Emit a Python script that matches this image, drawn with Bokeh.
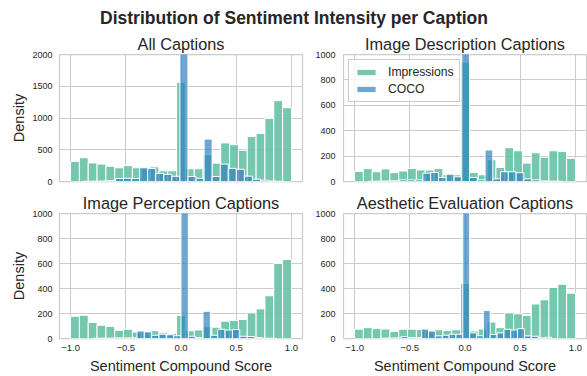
import numpy as np
from bokeh.plotting import figure
from bokeh.layouts import column, row
from bokeh.models import Range1d, FixedTicker, Label, Legend, LegendItem
from bokeh.embed import file_html
from bokeh.resources import INLINE

# ---------------- texts ----------------
suptitle = "Distribution of Sentiment Intensity per Caption"
panel_titles = ["All Captions", "Image Description Captions",
                "Image Perception Captions", "Aesthetic Evaluation Captions"]
series_labels = ["Impressions", "COCO"]
x_label = "Sentiment Compound Score"
y_label = "Density"

x_ticks = [-1.0, -0.5, 0.0, 0.5, 1.0]
x_tick_labels = ["\u22121.0", "\u22120.5", "0.0", "0.5", "1.0"]
y_ticks_all = [0, 500, 1000, 1500, 2000]
y_ticks_sub = [0, 200, 400, 600, 800, 1000]
y_max_all = 2000
y_max_sub = 1000

# ---------------- data ----------------
# Impressions: 25 equal-width bins spanning -1 .. 1
imp_range = (-1.0, 1.0)
imp_all = [316, 374, 292, 274, 240, 216, 250, 216, 220, 231, 168, 168, 1562,
           200, 200, 420, 289, 608, 579, 490, 708, 757, 994, 1273, 1162]
imp_description = [79, 101, 77, 99, 70, 83, 103, 91, 90, 102, 53, 53, 940,
                   71, 53, 172, 110, 266, 242, 145, 226, 190, 242, 236, 182]
imp_perception = [178, 186, 128, 106, 96, 66, 74, 52, 55, 62, 46, 40, 184,
                  62, 68, 96, 90, 139, 145, 153, 205, 237, 342, 600, 632]
imp_aesthetic = [75, 87, 79, 76, 57, 74, 75, 72, 62, 70, 63, 70, 440,
                 60, 76, 132, 87, 205, 197, 184, 276, 310, 408, 434, 363]

# COCO: first bin edge, bin width, counts (per panel)
coco_all_start, coco_all_width = -0.886, 0.073
coco_all = [3, 5, 8, 15, 47, 50, 47, 216, 205, 128, 113, 82, 3000,
            79, 50, 668, 79, 274, 206, 192, 84, 37, 21, 8, 3]
coco_description_start, coco_description_width = -0.873, 0.0703
coco_description = [2, 3, 4, 6, 13, 13, 13, 66, 71, 32, 58, 37, 1500,
                    32, 13, 248, 21, 77, 77, 69, 21, 13, 5, 3, 2]
coco_perception_start, coco_perception_width = -0.798, 0.0665
coco_perception = [2, 3, 3, 5, 5, 6, 60, 53, 26, 34, 30, 22, 1500,
                   18, 8, 218, 26, 74, 68, 72, 18, 16, 8, 3, 2]
coco_aesthetic_start, coco_aesthetic_width = -0.764, 0.062
coco_aesthetic = [3, 4, 5, 15, 8, 8, 76, 60, 21, 26, 34, 34, 1500,
                  45, 22, 224, 32, 45, 74, 68, 79, 21, 18, 5, 10]

# ---------------- style ----------------
FONT = "Liberation Sans"
TEXT = "#262626"
GRID = "#cccccc"
GREEN = "#66c2a5"
BLUE = "#3182bd"


def make_panel(title, imp, c_start, c_width, coco, ymax, yticks,
               width, height, mbl, mbr, mbt, mbb, bottom_axis, ylab,
               ystandoff, legend=False):
    kw = {}
    if not bottom_axis:
        kw["x_axis_location"] = None
    p = figure(width=width, height=height, output_backend="svg",
               toolbar_location=None,
               x_range=Range1d(-1.1, 1.1), y_range=Range1d(0, ymax),
               min_border_left=mbl, min_border_right=mbr,
               min_border_top=mbt, min_border_bottom=mbb, **kw)
    edges = np.linspace(imp_range[0], imp_range[1], len(imp) + 1)
    r_imp = p.quad(left=edges[:-1], right=edges[1:], bottom=0, top=imp,
                   fill_color=GREEN, fill_alpha=0.9,
                   line_color="white", line_width=1)
    cedges = c_start + c_width * np.arange(len(coco) + 1)
    r_coco = p.quad(left=cedges[:-1], right=cedges[1:], bottom=0, top=coco,
                    fill_color=BLUE, fill_alpha=0.7,
                    line_color="white", line_width=1)

    p.title.text = title
    p.title.align = "center"
    p.title.text_font = FONT
    p.title.text_font_size = "16.3px"
    p.title.text_font_style = "normal"
    p.title.text_color = TEXT
    p.title.standoff = 3

    p.xgrid.ticker = FixedTicker(ticks=x_ticks)
    p.ygrid.ticker = FixedTicker(ticks=yticks)
    p.grid.grid_line_color = GRID
    p.grid.grid_line_width = 1
    p.outline_line_color = GRID
    p.outline_line_width = 1.25

    ya = p.yaxis[0]
    ya.ticker = FixedTicker(ticks=yticks)
    ya.major_label_text_font = FONT
    ya.major_label_text_font_size = "9px"
    ya.major_label_text_color = TEXT
    ya.major_label_standoff = ystandoff
    ya.major_tick_out = 0
    ya.major_tick_in = 0
    ya.minor_tick_out = 0
    ya.minor_tick_in = 0
    ya.major_tick_line_color = None
    ya.minor_tick_line_color = None
    ya.axis_line_color = None
    if ylab:
        ya.axis_label = y_label
        ya.axis_label_text_font = FONT
        ya.axis_label_text_font_size = "14.5px"
        ya.axis_label_text_font_style = "normal"
        ya.axis_label_text_color = TEXT
        ya.axis_label_standoff = 2

    if bottom_axis:
        xa = p.xaxis[0]
        xa.ticker = FixedTicker(ticks=x_ticks)
        xa.major_label_overrides = dict(zip(x_ticks, x_tick_labels))
        xa.major_label_text_font = FONT
        xa.major_label_text_font_size = "9.5px"
        xa.major_label_text_color = TEXT
        xa.major_label_standoff = 6
        xa.major_tick_out = 0
        xa.major_tick_in = 0
        xa.minor_tick_out = 0
        xa.minor_tick_in = 0
        xa.major_tick_line_color = None
        xa.minor_tick_line_color = None
        xa.axis_line_color = None
        xa.axis_label = x_label
        xa.axis_label_text_font = FONT
        xa.axis_label_text_font_size = "14.5px"
        xa.axis_label_text_font_style = "normal"
        xa.axis_label_text_color = TEXT
        xa.axis_label_standoff = 4

    if legend:
        lg = Legend(items=[LegendItem(label=series_labels[0], renderers=[r_imp]),
                           LegendItem(label=series_labels[1], renderers=[r_coco])],
                    location="top_left", margin=5, padding=5, spacing=3,
                    glyph_width=24, glyph_height=8, label_height=12,
                    label_standoff=10,
                    label_text_font=FONT, label_text_font_size="12.2px",
                    label_text_color=TEXT,
                    border_line_color=GRID, border_line_alpha=1,
                    background_fill_color="white", background_fill_alpha=0.8)
        p.add_layout(lg)
    return p


t = figure(width=587, height=30, output_backend="svg", toolbar_location=None,
           x_axis_location=None, y_axis_location=None, min_border=0,
           x_range=Range1d(0, 1), y_range=Range1d(0, 1))
t.outline_line_color = None
t.grid.visible = False
t.add_layout(Label(x=293.5, y=12.5, x_units="screen", y_units="screen",
                   text=suptitle, text_align="center", text_baseline="alphabetic",
                   text_font=FONT, text_font_size="17.5px",
                   text_font_style="bold", text_color=TEXT))

p1 = make_panel(panel_titles[0], imp_all, coco_all_start, coco_all_width, coco_all,
                y_max_all, y_ticks_all, 312, 160, 59, 10, 24, 9, False, True, 7)
p2 = make_panel(panel_titles[1], imp_description, coco_description_start,
                coco_description_width, coco_description,
                y_max_sub, y_ticks_sub, 275, 160, 30, 1, 24, 9, False, False, 8,
                legend=True)
p3 = make_panel(panel_titles[2], imp_perception, coco_perception_start,
                coco_perception_width, coco_perception,
                y_max_sub, y_ticks_sub, 312, 186, 59, 10, 23, 36, True, True, 7)
p4 = make_panel(panel_titles[3], imp_aesthetic, coco_aesthetic_start,
                coco_aesthetic_width, coco_aesthetic,
                y_max_sub, y_ticks_sub, 275, 186, 30, 1, 23, 36, True, False, 8)

root = column(t, row(p1, p2), row(p3, p4))

open("out.html", "w").write(file_html(root, INLINE))
